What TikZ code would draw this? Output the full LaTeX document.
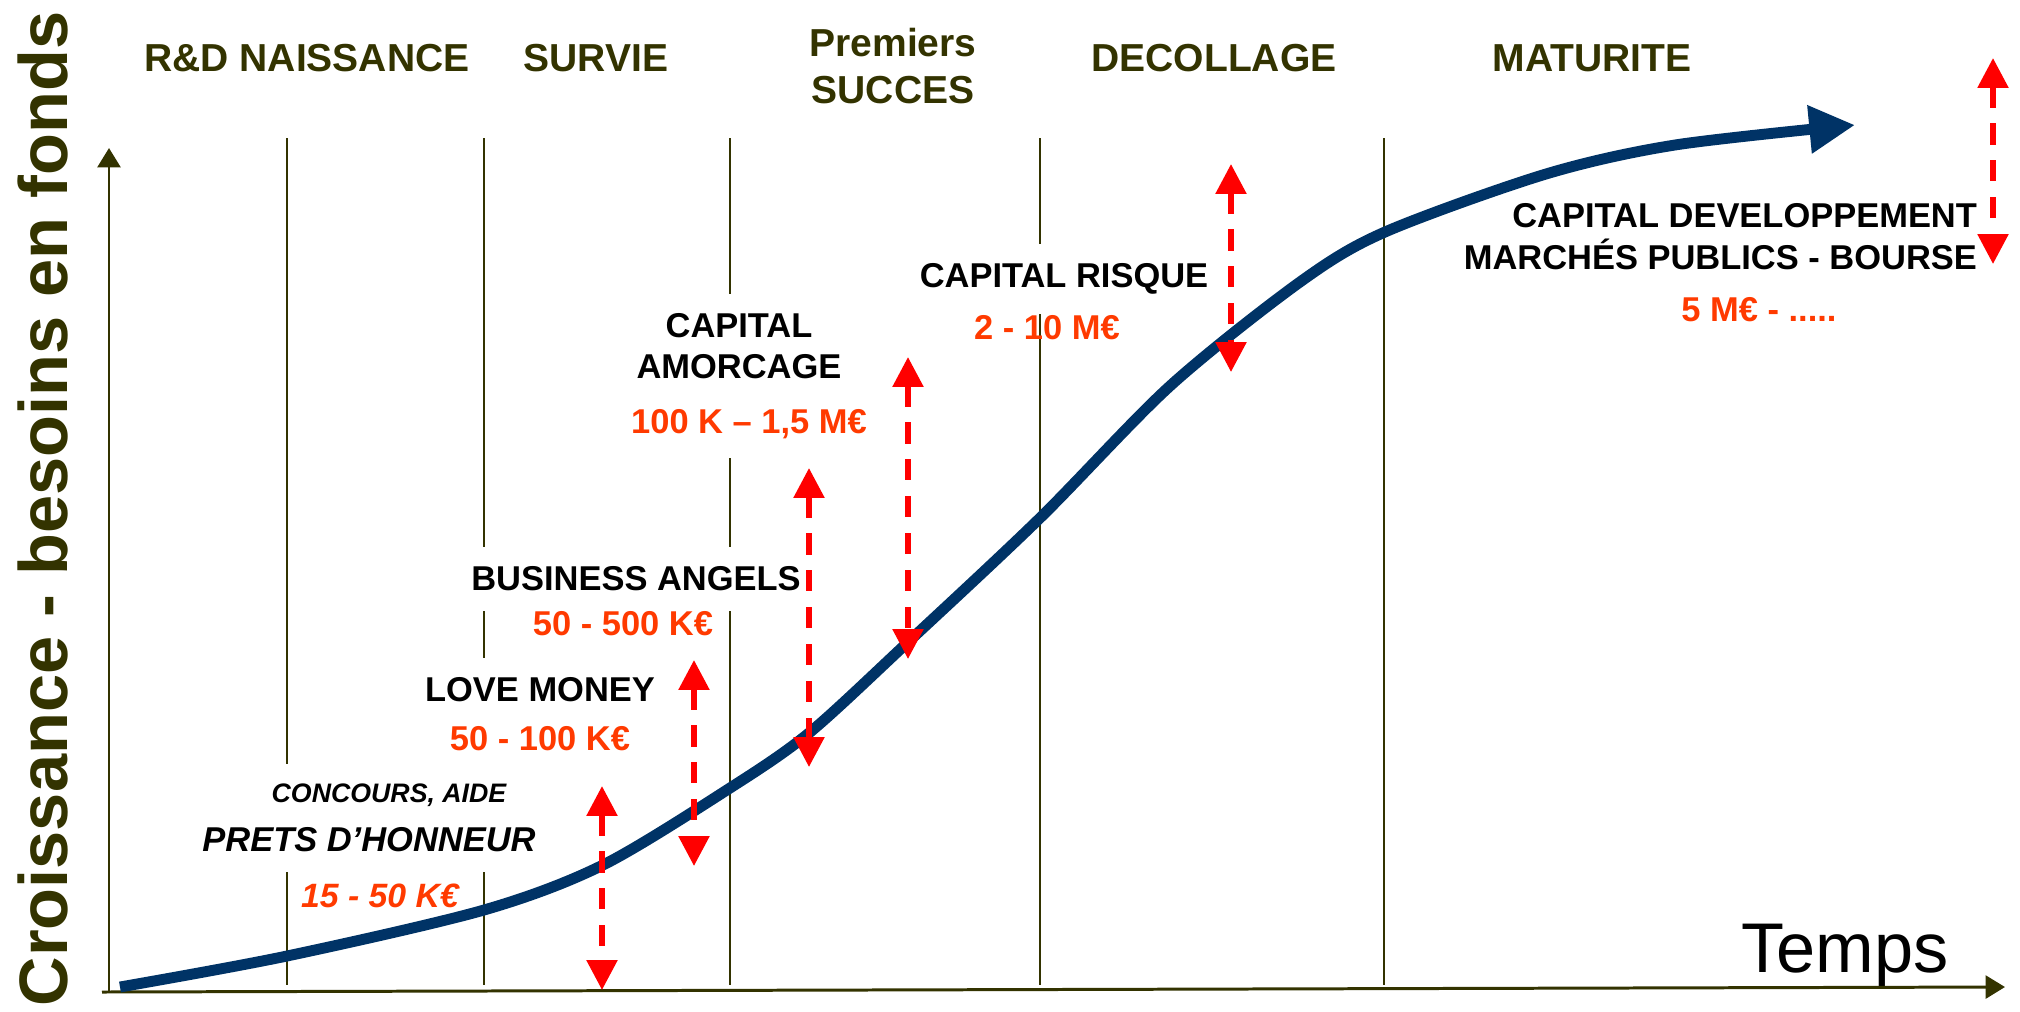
\documentclass[tikz,border=0pt]{standalone}
\usepackage{fontspec}
\setmainfont{Liberation Sans}
\usepackage{xcolor}
\usepackage{tikz}
\usetikzlibrary{arrows.meta}
\usetikzlibrary{positioning}

\definecolor{stagecol}{HTML}{333300}
\definecolor{growthcol}{HTML}{003366}
\definecolor{amountcol}{HTML}{FF3A00}
\definecolor{needcol}{HTML}{FF0000}

\begin{document}
\begin{tikzpicture}[x=0.01cm,y=-0.01cm,-,semithick,node distance=0.5cm]
 \tikzstyle{phase}=[draw=stagecol, line width=0.6pt]
 \tikzstyle{axis}=[draw=stagecol, line width=0.85pt, -{Triangle[length=5.5pt,width=6.5pt]}]
 \tikzstyle{stage}=[text=stagecol, font=\bfseries\fontsize{11.1}{13.4}\selectfont, align=center, inner sep=0pt]
 \tikzstyle{lbl}=[fill=white, font=\bfseries\fontsize{9.8}{11.7}\selectfont, align=center, inner xsep=2pt, inner ysep=5.5pt]
 \tikzstyle{amount}=[lbl, text=amountcol]
 \tikzstyle{need}=[draw=needcol, line width=1.6pt, dash pattern=on 6pt off 4.5pt,
   {Triangle[length=8.5pt,width=8.5pt]}-{Triangle[length=8.5pt,width=8.5pt]}]
 \tikzstyle{growth}=[draw=growthcol, line width=3.1pt, -{Triangle[length=13pt,width=13pt]}]

 \useasboundingbox (0,0) rectangle (2020,1011);

 % phase separators
 \foreach \n/\x in {a/287,b/484,c/730,d/1040,e/1384}{
   \coordinate (top\n) at (\x,138);
   \coordinate (bot\n) at (\x,985);
   \draw[phase] (top\n) -- (bot\n);
 }

 % phase titles
 \node[stage] (rd) at (307,58) {R\&D NAISSANCE};
 \node[stage] (survie) at (596,58) {SURVIE};
 \node[stage] (succes) at (893,66) {Premiers\\SUCCES};
 \node[stage] (decollage) at (1214,58) {DECOLLAGE};
 \node[stage] (maturite) at (1592,58) {MATURITE};

 % axis titles
 \node[text=stagecol, font=\bfseries\fontsize{19.5}{20}\selectfont, rotate=90, inner sep=0pt] (ytitle) at (43,509) {Croissance - besoins en fonds};
 \node[font=\fontsize{20}{20}\selectfont, anchor=base, inner sep=0pt] (temps) at (1845,972) {Temps};

 % financing sources
 \node[lbl, font=\bfseries\itshape\fontsize{7.6}{9}\selectfont] (concours) at (389,795) {CONCOURS, AIDE};
 \node[lbl, font=\bfseries\itshape\fontsize{9.8}{11.7}\selectfont] (prets) [below of=concours, node distance=0.45cm, xshift=-0.2cm] {PRETS D'HONNEUR};
 \node[amount, fill=none, font=\bfseries\itshape\fontsize{9.6}{11}\selectfont] (pretsval) [below of=prets, node distance=0.56cm, xshift=0.11cm] {15 - 50 K€};

 \node[lbl] (love) at (540,690) {LOVE MONEY};
 \node[amount] (loveval) [below of=love, node distance=0.49cm] {50 - 100 K€};

 \node[lbl] (angels) at (636,579) {BUSINESS ANGELS};
 \node[amount] (angelsval) [below of=angels, node distance=0.45cm, xshift=-0.13cm] {50 - 500 K€};

 \node[lbl] (amorcage) at (739,346) {CAPITAL\\AMORCAGE};
 \node[amount] (amorcageval) [below of=amorcage, node distance=0.78cm, xshift=0.1cm] {100 K -- 1,5 M€};

 \node[lbl] (risque) at (1064,279) {CAPITAL RISQUE};
 \node[amount, fill=none] (risqueval) [below of=risque, node distance=0.49cm, xshift=-0.17cm] {2 - 10 M€};

 \node[lbl, fill=none, align=right, anchor=east, inner sep=0pt, font=\bfseries\fontsize{9.8}{12}\selectfont] (devel) at (1978,237) {CAPITAL DEVELOPPEMENT\\MARCHÉS PUBLICS - BOURSE};
 \node[amount, fill=none] (develval) at (1759,310) {5 M€ - .....};

 % axes
 \coordinate (origin) at (109,992);
 \coordinate (ytop) at (109,148);
 \coordinate (xstart) at (102,992);
 \coordinate (xend) at (2005,987);
 \draw[axis] (origin) -- (ytop);
 \draw[axis] (xstart) -- (xend);

 % growth curve
 \draw[growth] plot[smooth, tension=0.5] coordinates {(120,987) (287,956) (484,910) (603,865) (730,788) (809,733) (907,643) (1040,518) (1170,386) (1300,282) (1385,232) (1546,174) (1675,145) (1855,125)};

 % funding ranges
 \foreach \n/\x/\a/\b in {1/602/786/990,2/694/660/866,3/809/468/767,4/908/357/659,5/1231/164/372,6/1993/58/264}{
   \coordinate (up\n) at (\x,\a);
   \coordinate (dn\n) at (\x,\b);
   \draw[need] (up\n) -- (dn\n);
 }
\end{tikzpicture}
\end{document}
